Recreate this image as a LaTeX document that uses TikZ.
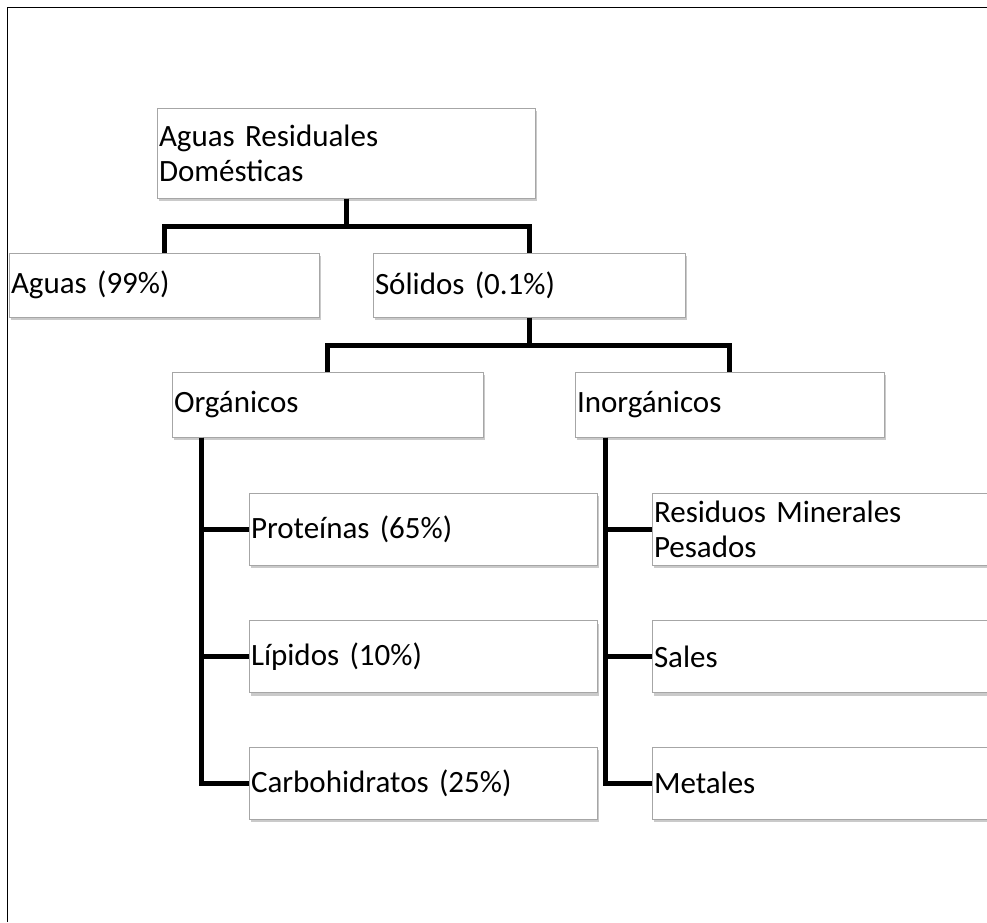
\documentclass[tikz,border=0pt]{standalone}
\usepackage{fontspec}
\setmainfont{Carlito}
\usetikzlibrary{shadows}
\tikzset{
  box/.style={rectangle, draw=black!35, line width=1pt, fill=white, inner xsep=2pt, inner ysep=0pt, align=left,
    font=\fontsize{31}{35}\selectfont,
    drop shadow={shadow xshift=2pt, shadow yshift=-3pt, opacity=0.35, fill=black!60}},
  conn/.style={line width=5pt, line join=miter},
}
\begin{document}
\begin{tikzpicture}[x=1pt, y=-1pt]
\useasboundingbox (0,0) rectangle (987,922);
\draw[line width=1.5pt] (7.5,922) |- (987,7.5);

\node[box, text width=374pt, minimum height=90pt] (ARD) at (346,153) {Aguas Residuales\\Domésticas};
\node[box, text width=306pt, minimum height=64pt] (AG) at (164,285) {Aguas (99\%)};
\node[box, text width=308pt, minimum height=64pt] (SO) at (529,285) {Sólidos (0.1\%)};
\node[box, text width=307pt, minimum height=65pt] (OR) at (327.5,404.5) {Orgánicos};
\node[box, text width=305pt, minimum height=65pt] (IN) at (729.5,404.5) {Inorgánicos};
\node[box, text width=344pt, minimum height=72pt] (PR) at (423,529) {Proteínas (65\%)};
\node[box, text width=344pt, minimum height=72pt] (LI) at (423,656.5) {Lípidos (10\%)};
\node[box, text width=344pt, minimum height=72pt] (CA) at (423,783) {Carbohidratos (25\%)};
\node[box, text width=396pt, minimum height=72pt] (RM) at (852,529) {Residuos Minerales\\Pesados};
\node[box, text width=396pt, minimum height=72pt] (SA) at (852,656.5) {Sales};
\node[box, text width=396pt, minimum height=72pt] (ME) at (852,783) {Metales};

\draw[conn] (ARD.south) -- ++(0,27.5) -| (AG.north);
\draw[conn] (ARD.south) -- ++(0,27.5) -| (SO.north);
\draw[conn] (SO.south) -- ++(0,27.5) -| (OR.north);
\draw[conn] (SO.south) -- ++(0,27.5) -| (IN.north);
\foreach \c in {PR,LI,CA}
  \draw[conn] ([xshift=30pt]OR.south west) |- (\c.west);
\foreach \c in {RM,SA,ME}
  \draw[conn] ([xshift=31pt]IN.south west) |- (\c.west);
\end{tikzpicture}
\end{document}
